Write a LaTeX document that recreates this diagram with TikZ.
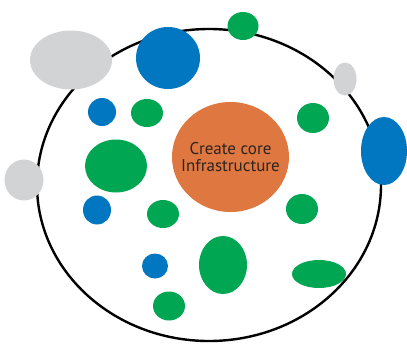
\documentclass[tikz,border=0pt]{standalone}
\usepackage{fontspec}
\setmainfont{PT Sans}
\usetikzlibrary{shapes.geometric}
\definecolor{cgray}{HTML}{D1D3D4}
\definecolor{cblue}{HTML}{0077C0}
\definecolor{cgreen}{HTML}{00A651}
\definecolor{corange}{HTML}{DE7740}
\definecolor{ctext}{HTML}{2E2420}
\tikzset{
  blob/.style={shape=ellipse,inner sep=0pt,draw=none},
  grayblob/.style={blob,fill=cgray},
  blueblob/.style={blob,fill=cblue},
  greenblob/.style={blob,fill=cgreen}
}
\begin{document}
\begin{tikzpicture}[x=1pt,y=-1pt]
  \useasboundingbox (0,0) rectangle (407,343);
  \node[shape=ellipse,draw=black,line width=2.4pt,minimum width=344pt,minimum height=312pt] (cell) at (209,185) {};

  \node[grayblob,minimum width=82pt,minimum height=59pt] (g1) at (71,60) {};
  \node[grayblob,minimum width=23pt,minimum height=33pt] (g2) at (345,79) {};
  \node[grayblob,minimum width=39pt,minimum height=41pt] (g3) at (24,180) {};

  \node[blueblob,minimum width=64pt,minimum height=62pt] (b1) at (168,58) {};
  \node[blueblob,minimum width=46pt,minimum height=68pt] (b2) at (384,151) {};
  \node[blueblob,minimum width=28pt,minimum height=28pt] (b3) at (102,112) {};
  \node[blueblob,minimum width=28pt,minimum height=29pt] (b4) at (97,210) {};
  \node[blueblob,minimum width=26pt,minimum height=25pt] (b5) at (155,266) {};

  \node[greenblob,minimum width=31pt,minimum height=28pt] (n1) at (243,26) {};
  \node[greenblob,minimum width=32pt,minimum height=28pt] (n2) at (147,113) {};
  \node[greenblob,minimum width=62pt,minimum height=53pt] (n3) at (116,166) {};
  \node[greenblob,minimum width=32pt,minimum height=28pt] (n4) at (163,214) {};
  \node[greenblob,minimum width=32pt,minimum height=30pt] (n5) at (313,118) {};
  \node[greenblob,minimum width=32pt,minimum height=30pt] (n6) at (302,209) {};
  \node[greenblob,minimum width=48pt,minimum height=58pt] (n7) at (223,265) {};
  \node[greenblob,minimum width=54pt,minimum height=28pt] (n8) at (319,274) {};
  \node[greenblob,minimum width=32pt,minimum height=29pt] (n9) at (169,306) {};

  \node[blob,fill=corange,minimum width=117pt,minimum height=110pt] (core) at (230.5,157) {};
  \node[text=ctext,align=center,inner sep=0pt,font=\fontsize{17}{17.5}\selectfont] (label) at (230.5,157) {Create core\\Infrastructure};
\end{tikzpicture}
\end{document}
